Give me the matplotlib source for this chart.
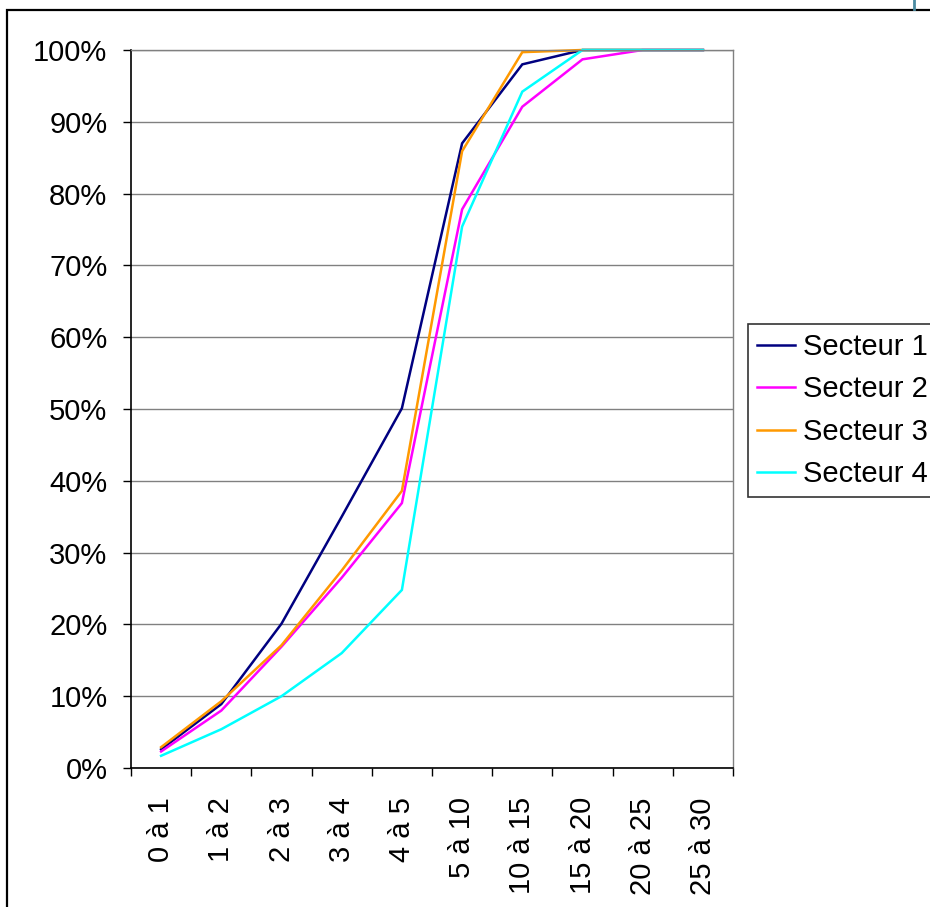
import numpy as np
import matplotlib.pyplot as plt
from matplotlib.patches import Rectangle
from matplotlib.lines import Line2D
from matplotlib.ticker import FuncFormatter

plt.rcParams['font.family'] = ['Liberation Sans', 'DejaVu Sans']

categories = ['0 à 1', '1 à 2', '2 à 3', '3 à 4', '4 à 5',
              '5 à 10', '10 à 15', '15 à 20', '20 à 25', '25 à 30']

secteur_1 = [2.6, 8.9, 20.1, 35.0, 50.1, 87.0, 98.0, 100, 100, 100]
secteur_2 = [2.3, 8.0, 16.9, 26.5, 36.9, 77.8, 92.1, 98.7, 100, 100]
secteur_3 = [2.9, 9.3, 17.1, 27.5, 38.6, 85.9, 99.7, 100, 100, 100]
secteur_4 = [1.7, 5.4, 10.0, 16.0, 24.8, 75.4, 94.2, 100, 100, 100]

series_names = ['Secteur 1', 'Secteur 2', 'Secteur 3', 'Secteur 4']
series_colors = ['#000080', '#FF00FF', '#FF9900', '#00FFFF']


def main():
    fig = plt.figure(figsize=(9.3, 9.07), dpi=100)
    ax = fig.add_axes([131 / 930, 1 - 768 / 907, 602 / 930, 718 / 907])

    x = np.arange(len(categories))
    series = [secteur_1, secteur_2, secteur_3, secteur_4]
    for valeurs, nom, couleur in zip(series, series_names, series_colors):
        ax.plot(x, valeurs, color=couleur, lw=1.8, label=nom,
                solid_joinstyle='miter', clip_on=False)

    ax.set_xlim(-0.5, len(categories) - 0.5)
    ax.set_ylim(0, 100)

    # grille horizontale grise
    ax.set_yticks(np.arange(0, 101, 10))
    ax.yaxis.set_major_formatter(FuncFormatter(lambda v, p: f'{v:.0f}%'))
    ax.grid(axis='y', color='#808080', lw=1)
    ax.set_axisbelow(True)

    # ticks aux limites des categories, etiquettes au centre
    ax.set_xticks(np.arange(-0.5, len(categories), 1.0))
    ax.set_xticklabels([])
    ax.set_xticks(x, minor=True)
    ax.set_xticklabels(categories, minor=True, rotation=90, va='top')
    ax.tick_params(axis='x', which='major', direction='out', length=6,
                   width=1, color='black')
    ax.tick_params(axis='x', which='minor', length=0, pad=21, labelsize=21)
    ax.tick_params(axis='y', direction='out', length=6, width=1,
                   labelsize=21, pad=11)

    for cote in ['top', 'right']:
        ax.spines[cote].set_color('#808080')
        ax.spines[cote].set_linewidth(1)
    for cote in ['left', 'bottom']:
        ax.spines[cote].set_color('black')
        ax.spines[cote].set_linewidth(1.2)

    leg = fig.legend(loc='upper left', bbox_to_anchor=(748 / 930, 1 - 324 / 907),
                     fontsize=21, frameon=True, fancybox=False,
                     edgecolor='black', handlelength=1.3, handletextpad=0.3,
                     borderpad=0.3, labelspacing=0.5, borderaxespad=0)
    leg.get_frame().set_linewidth(1.2)

    # cadre du graphique
    fig.add_artist(Rectangle((7 / 930, -0.2), 1.2, 1 - 10 / 907 + 0.2,
                             transform=fig.transFigure, fill=False,
                             edgecolor='black', lw=1.6))
    fig.add_artist(Line2D([914 / 930, 914 / 930], [1 - 9 / 907, 1.0],
                          transform=fig.transFigure, color='#4a8aa0', lw=2))

    fig.savefig('out.png', dpi=100)


if __name__ == "__main__":
    main()
